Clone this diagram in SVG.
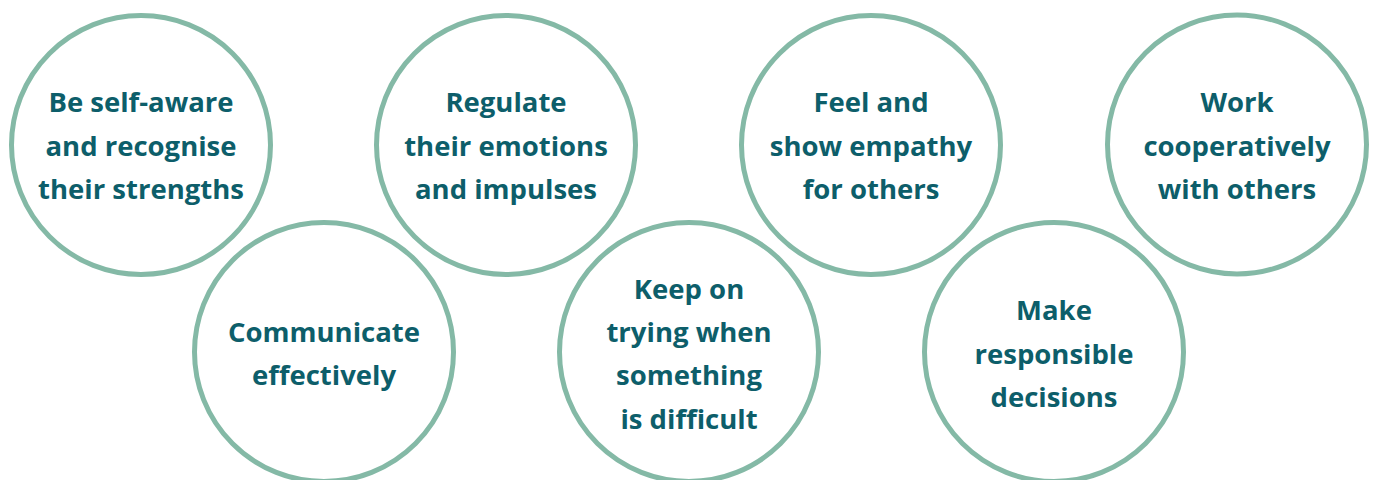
<svg xmlns="http://www.w3.org/2000/svg" width="1375" height="480" viewBox="0 0 1375 480">
<style>
.c{fill:#ffffff;stroke:#84b9a6;stroke-width:5}
.t{font-family:"Open Sans","Noto Sans",sans-serif;font-weight:700;font-size:27.5px;fill:#0d5e6a;text-anchor:middle}
</style>
<rect width="1375" height="480" fill="#ffffff"/>
<g id="connectors"></g>
<g id="n1"><circle class="c" cx="141" cy="145" r="129.5"/>
<text class="t" x="141" y="112">Be self-aware</text><text class="t" x="141" y="155.5">and recognise</text><text class="t" x="141" y="199">their strengths</text></g>
<g id="n2"><circle class="c" cx="506" cy="145" r="129.5"/>
<text class="t" x="506" y="112">Regulate</text><text class="t" x="506" y="155.5">their emotions</text><text class="t" x="506" y="199">and impulses</text></g>
<g id="n3"><circle class="c" cx="871" cy="145" r="129.5"/>
<text class="t" x="871" y="112">Feel and</text><text class="t" x="871" y="155.5">show empathy</text><text class="t" x="871" y="199">for others</text></g>
<g id="n4"><circle class="c" cx="1237" cy="144.5" r="129.5"/>
<text class="t" x="1237" y="112">Work</text><text class="t" x="1237" y="155.5">cooperatively</text><text class="t" x="1237" y="199">with others</text></g>
<g id="n5"><circle class="c" cx="324" cy="352" r="129.5"/>
<text class="t" x="324" y="341.5">Communicate</text><text class="t" x="324" y="385">effectively</text></g>
<g id="n6"><circle class="c" cx="689" cy="352" r="129.5"/>
<text class="t" x="689" y="298.5">Keep on</text><text class="t" x="689" y="342">trying when</text><text class="t" x="689" y="385">something</text><text class="t" x="689" y="428.5">is difficult</text></g>
<g id="n7"><circle class="c" cx="1054" cy="352" r="129.5"/>
<text class="t" x="1054" y="320">Make</text><text class="t" x="1054" y="363.5">responsible</text><text class="t" x="1054" y="407">decisions</text></g>
</svg>
